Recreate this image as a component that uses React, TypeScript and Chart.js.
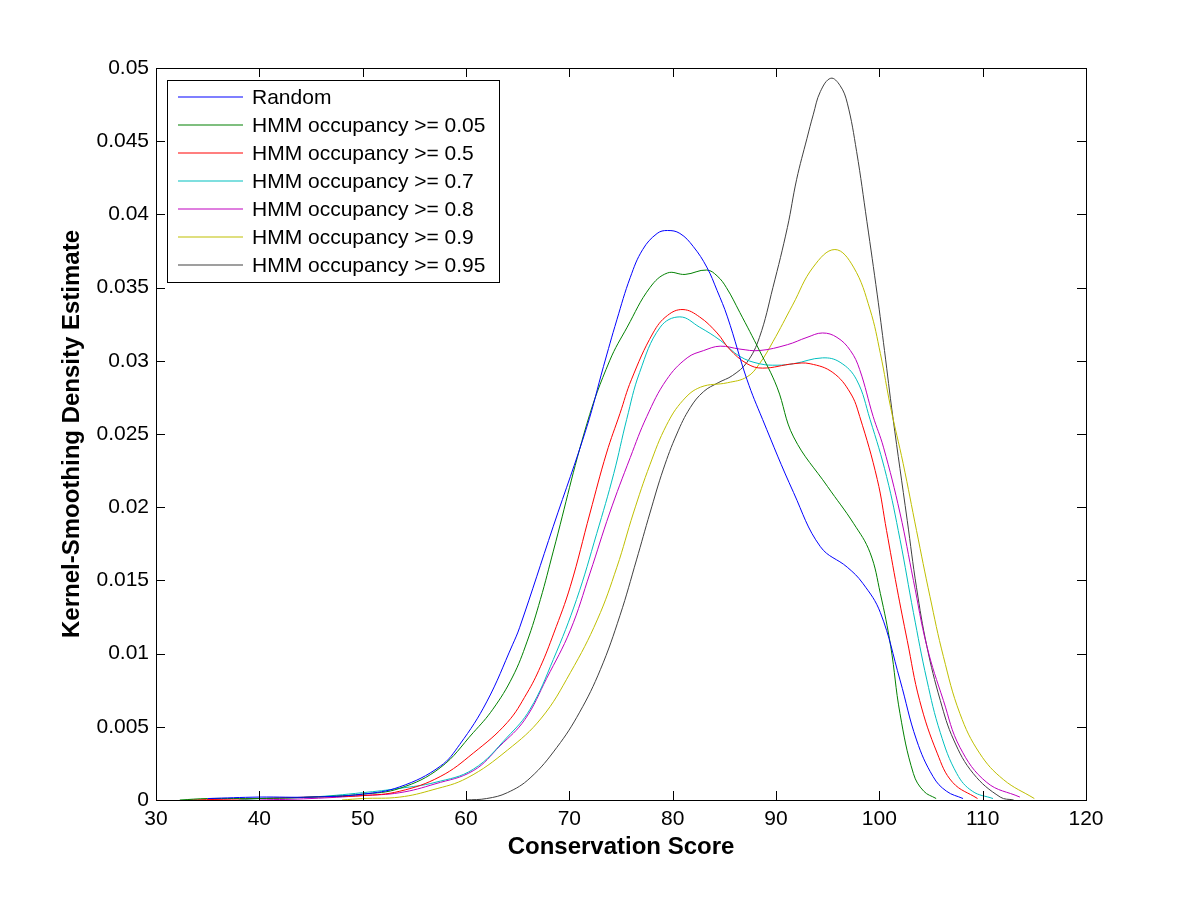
import { useEffect, useRef } from "react"
import { Chart, registerables, type Plugin } from "chart.js"

Chart.register(...registerables)

// x ticks / y ticks
const xTicks = [30, 40, 50, 60, 70, 80, 90, 100, 110, 120]
const yTicks = [0, 0.005, 0.01, 0.015, 0.02, 0.025, 0.03, 0.035, 0.04, 0.045, 0.05]
const yTickLabels = ["0", "0.005", "0.01", "0.015", "0.02", "0.025", "0.03", "0.035", "0.04", "0.045", "0.05"]

const seriesNames = [
  "Random",
  "HMM occupancy >= 0.05",
  "HMM occupancy >= 0.5",
  "HMM occupancy >= 0.7",
  "HMM occupancy >= 0.8",
  "HMM occupancy >= 0.9",
  "HMM occupancy >= 0.95",
]

const seriesColors = ["#0000ff", "#008000", "#ff0000", "#00bfbf", "#bf00bf", "#bfbf00", "#404040"]

// [conservation score, density]
const randomPts: [number, number][] = [
  [35, 0.0001], [40, 0.0002], [45, 0.0002], [50, 0.0004], [53.6, 0.0009], [57.5, 0.0023], [59.4, 0.0038],
  [62, 0.0067], [64.5, 0.0106], [65.2, 0.0118], [68.45, 0.0187], [71.7, 0.0255], [73.3, 0.0296],
  [74.6, 0.0328], [75.9, 0.0357], [77.1, 0.0376], [78.5, 0.0387], [79.5, 0.0389], [80.7, 0.0387],
  [82, 0.0378], [83.3, 0.0364], [84.3, 0.0348], [85.3, 0.033], [87.2, 0.0287], [88.7, 0.026],
  [91.7, 0.021], [94.3, 0.0173], [96.9, 0.0159], [98.4, 0.0148], [100.1, 0.0128], [102, 0.0082],
  [103.6, 0.0041], [105.2, 0.0016], [106.5, 0.0006], [108.1, 0.0001],
]

const occ005Pts: [number, number][] = [
  [32.3, 0], [35, 0.0001], [40, 0.0001], [45, 0.0002], [50, 0.0004], [53.6, 0.0008], [57.5, 0.0022],
  [60.7, 0.0046], [62.6, 0.0062], [64.5, 0.0084], [65.9, 0.0108], [67.2, 0.0137], [68.45, 0.017],
  [71.7, 0.0257], [73.9, 0.03], [75.6, 0.0323], [77.8, 0.035], [79.5, 0.036], [81.2, 0.0359],
  [83.3, 0.0362], [84.3, 0.0358], [85.2, 0.035], [86.5, 0.0333], [88.4, 0.0307], [90.1, 0.0282],
  [91.7, 0.0248], [95, 0.0214], [97.5, 0.0189], [99.1, 0.0169], [100.1, 0.0141], [101.1, 0.0105],
  [102, 0.0059], [103.3, 0.0018], [104.3, 0.0006], [105.5, 0.0001],
]

const occ05Pts: [number, number][] = [
  [33, 0], [40, 0.0001], [45, 0.0002], [50, 0.0003], [53.6, 0.0006], [57.5, 0.0016], [60.7, 0.0032],
  [64, 0.0053], [65.9, 0.0073], [67.2, 0.0091], [68.5, 0.0114], [70.1, 0.0146], [72, 0.0196],
  [73.6, 0.0237], [74.9, 0.0264], [76, 0.0287], [78.1, 0.0319], [79.5, 0.0331], [81, 0.0335],
  [82.6, 0.033], [84.3, 0.0319], [85.5, 0.0308], [87.2, 0.0298], [88.7, 0.0295], [91.7, 0.0298],
  [93.3, 0.0298], [95.5, 0.0292], [97.2, 0.0278], [98.1, 0.0262], [99.8, 0.0219], [100.7, 0.0184],
  [101.7, 0.0145], [102.7, 0.0109], [103.9, 0.0068], [105.6, 0.0032], [107.1, 0.0012], [109.5, 0.0001],
]

const occ07Pts: [number, number][] = [
  [38, 0], [40, 0.0001], [45, 0.0002], [50, 0.0005], [53.6, 0.0008], [57, 0.0012], [60.7, 0.0021],
  [64, 0.0043], [66.2, 0.0062], [68.45, 0.0096], [70.7, 0.0137], [72.65, 0.0182], [74.3, 0.0223],
  [75.55, 0.026], [76.8, 0.0292], [78.8, 0.0323], [80.7, 0.033], [82.6, 0.0323], [84.6, 0.0314],
  [86.5, 0.0303], [88.4, 0.0298], [90.1, 0.0297], [91.7, 0.0298], [94.5, 0.0302], [96.2, 0.0299],
  [97.8, 0.0287], [99.1, 0.026], [100.7, 0.0221], [102, 0.0178], [103.3, 0.0128], [104.6, 0.0082],
  [105.9, 0.0046], [107.5, 0.0018], [109, 0.0006], [111, 0.0001],
]

const occ08Pts: [number, number][] = [
  [40, 0], [45, 0.0001], [50, 0.0003], [53.6, 0.0005], [57, 0.0011], [60.7, 0.002], [63.3, 0.0037],
  [65.7, 0.0055], [67.8, 0.0083], [70.1, 0.0116], [72, 0.0155], [73.9, 0.0196], [75.9, 0.0234],
  [77.5, 0.0262], [79.4, 0.0287], [81.4, 0.0302], [83, 0.0307], [84.6, 0.031], [86.5, 0.0308],
  [88.4, 0.0307], [91.1, 0.0311], [93, 0.0316], [94.5, 0.0319], [95.9, 0.0316], [97.2, 0.0307],
  [98.1, 0.0294], [99.4, 0.0262], [100.4, 0.0241], [102, 0.0196], [103.3, 0.015], [104.6, 0.0105],
  [106.2, 0.0068], [107.8, 0.0036], [110.4, 0.0012], [113.6, 0.0002],
]

const occ09Pts: [number, number][] = [
  [48, 0], [50, 0.0001], [53.6, 0.0002], [56.8, 0.0007], [60.1, 0.0015], [64, 0.0034], [67.3, 0.0056],
  [70.1, 0.0087], [72.7, 0.0123], [74.6, 0.0159], [76.2, 0.0196], [77.8, 0.0229], [79.4, 0.0256],
  [81, 0.0273], [82.7, 0.0282], [85.3, 0.0285], [87.2, 0.0289], [88.4, 0.0298], [89.7, 0.0313],
  [91.6, 0.0338], [93.6, 0.0364], [95.7, 0.0376], [97.5, 0.0364], [99.1, 0.0335], [100.1, 0.0305],
  [101.1, 0.0268], [102.3, 0.023], [103.6, 0.0184], [104.9, 0.0139], [106.2, 0.0098], [107.8, 0.0059],
  [109.7, 0.0032], [112, 0.0014], [115, 0.0001],
]

const occ095Pts: [number, number][] = [
  [60, 0], [62, 0.0001], [64, 0.0005], [66.2, 0.0015], [68.8, 0.0036], [71, 0.006], [73, 0.0089],
  [74.9, 0.0126], [76.5, 0.0164], [77.8, 0.0196], [79.1, 0.0226], [80.4, 0.025], [81.7, 0.0268],
  [83, 0.0279], [84.4, 0.0285], [85.8, 0.029], [87.2, 0.0299], [88.4, 0.0316], [89.7, 0.035],
  [91.1, 0.0391], [92, 0.0424], [93, 0.0452], [93.6, 0.0468], [94.3, 0.0484], [95.3, 0.0493],
  [96.2, 0.0488], [96.9, 0.0476], [97.8, 0.0443], [98.8, 0.0395], [99.8, 0.0345], [100.5, 0.0307],
  [101.3, 0.0262], [102.7, 0.0191], [103.6, 0.0145], [104.6, 0.0105], [105.9, 0.0068], [107.2, 0.0041],
  [109.1, 0.0018], [111.7, 0.0002], [113, 0],
]

const seriesPts = [randomPts, occ005Pts, occ05Pts, occ07Pts, occ08Pts, occ09Pts, occ095Pts]

const FONT = "'Liberation Sans', Arial, Helvetica, sans-serif"

// MATLAB-style box, inward ticks on all four sides, and legend in the upper-left
const matlabFrame: Plugin<"line"> = {
  id: "matlabFrame",
  afterDatasetsDraw(chart) {
    const { ctx, chartArea } = chart
    const { left, right, top, bottom } = chartArea
    const xs = chart.scales.x
    const ys = chart.scales.y
    const tick = 9
    ctx.save()
    ctx.strokeStyle = "#000"
    ctx.lineWidth = 1
    ctx.beginPath()
    for (const v of xTicks) {
      const px = Math.round(xs.getPixelForValue(v)) + 0.5
      ctx.moveTo(px, bottom)
      ctx.lineTo(px, bottom - tick)
      ctx.moveTo(px, top)
      ctx.lineTo(px, top + tick)
    }
    for (const v of yTicks) {
      const py = Math.round(ys.getPixelForValue(v)) + 0.5
      ctx.moveTo(left, py)
      ctx.lineTo(left + tick, py)
      ctx.moveTo(right, py)
      ctx.lineTo(right - tick, py)
    }
    ctx.stroke()
    ctx.strokeRect(Math.round(left) + 0.5, Math.round(top) + 0.5, Math.round(right - left), Math.round(bottom - top))

    // legend
    const lx = Math.round(left + 11)
    const ly = Math.round(top + 12)
    const lw = 332
    const rowH = 28
    const lh = rowH * seriesNames.length + 6
    ctx.fillStyle = "#fff"
    ctx.fillRect(lx, ly, lw, lh)
    ctx.strokeStyle = "#000"
    ctx.strokeRect(lx + 0.5, ly + 0.5, lw, lh)
    ctx.font = `21px ${FONT}`
    ctx.textBaseline = "middle"
    ctx.textAlign = "left"
    seriesNames.forEach((name, i) => {
      const cy = ly + 17 + i * rowH
      ctx.strokeStyle = seriesColors[i]
      ctx.lineWidth = 1.2
      ctx.beginPath()
      ctx.moveTo(lx + 11, cy)
      ctx.lineTo(lx + 76, cy)
      ctx.stroke()
      ctx.fillStyle = "#000"
      ctx.fillText(name, lx + 85, cy + 1)
    })
    ctx.restore()
  },
}

export default function App() {
  const canvasRef = useRef<HTMLCanvasElement>(null)

  useEffect(() => {
    if (!canvasRef.current) return
    document.body.style.margin = "0"

    const chart = new Chart(canvasRef.current, {
      type: "line",
      data: {
        datasets: seriesNames.map((name, i) => ({
          label: name,
          data: seriesPts[i].map(([x, y]) => ({ x, y })),
          borderColor: seriesColors[i],
          backgroundColor: seriesColors[i],
          borderWidth: 1,
          pointRadius: 0,
          tension: 0.4,
          fill: false,
        })),
      },
      options: {
        responsive: false,
        animation: false,
        devicePixelRatio: 1,
        layout: { padding: { left: 0, right: 114, top: 68, bottom: 0 } },
        plugins: {
          legend: { display: false },
          tooltip: { enabled: false },
        },
        scales: {
          x: {
            type: "linear",
            min: 30,
            max: 120,
            afterBuildTicks: (axis) => {
              axis.ticks = xTicks.map((value) => ({ value }))
            },
            afterFit: (axis) => {
              axis.height = 100
            },
            grid: { display: false, drawTicks: false },
            border: { display: false },
            ticks: {
              color: "#000",
              font: { family: FONT, size: 21 },
              padding: 7,
              maxRotation: 0,
              autoSkip: false,
              callback: (value) => String(value),
            },
            title: {
              display: true,
              text: "Conservation Score",
              color: "#000",
              font: { family: FONT, size: 24, weight: "bold" },
              padding: { top: 0, bottom: 38 },
            },
          },
          y: {
            type: "linear",
            min: 0,
            max: 0.05,
            afterBuildTicks: (axis) => {
              axis.ticks = yTicks.map((value) => ({ value }))
            },
            afterFit: (axis) => {
              axis.width = 156
            },
            grid: { display: false, drawTicks: false },
            border: { display: false },
            ticks: {
              color: "#000",
              font: { family: FONT, size: 21 },
              padding: 7,
              autoSkip: false,
              callback: (value) => {
                const idx = yTicks.findIndex((t) => Math.abs(t - Number(value)) < 1e-9)
                return idx >= 0 ? yTickLabels[idx] : ""
              },
            },
            title: {
              display: true,
              text: "Kernel-Smoothing Density Estimate",
              color: "#000",
              font: { family: FONT, size: 24, weight: "bold" },
              padding: { top: 58, bottom: 0 },
            },
          },
        },
      },
      plugins: [matlabFrame],
    })

    return () => {
      chart.destroy()
    }
  }, [])

  return (
    <div style={{ width: 1200, height: 900, background: "#fff" }}>
      <canvas ref={canvasRef} width={1200} height={900} />
    </div>
  )
}
